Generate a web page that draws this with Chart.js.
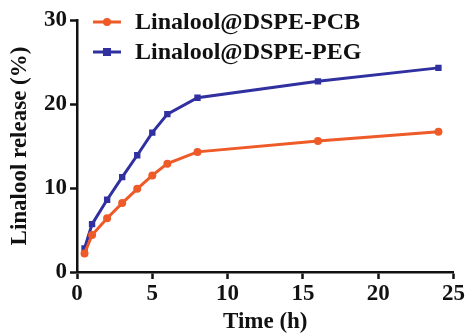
<!DOCTYPE html>
<html>
<head>
<meta charset="utf-8">
<script src="https://cdn.jsdelivr.net/npm/chart.js@4/dist/chart.umd.min.js"></script>
<style>
  html, body { margin: 0; padding: 0; background: #fff; }
  #wrap { width: 466px; height: 336px; position: relative; }
</style>
</head>
<body>
<div id="wrap"><canvas id="chart"></canvas></div>
<script>
// Release data
const timePoints = [0.5, 1, 2, 3, 4, 5, 6, 8, 16, 24];
const pcbRelease = [2.2, 4.4, 6.4, 8.2, 9.9, 11.5, 12.9, 14.3, 15.6, 16.7];
const pegRelease = [2.8, 5.7, 8.6, 11.3, 13.9, 16.6, 18.8, 20.75, 22.7, 24.3];
const seriesNames = ['Linalool@DSPE-PCB', 'Linalool@DSPE-PEG'];
const xTicks = [0, 5, 10, 15, 20, 25];
const yTicks = [0, 10, 20, 30];

const orange = '#ee5a28';
const blue = '#3030a0';
const fontFamily = '"Liberation Serif", "Times New Roman", serif';

function toPoints(xs, ys) {
    return xs.map((x, i) => ({ x: x, y: ys[i] }));
}

// Legend drawn inside the plot, top-left, like the original
const insideLegend = {
    id: 'insideLegend',
    afterDraw(chart) {
        const ctx = chart.ctx;
        const area = chart.chartArea;
        ctx.save();
        ctx.font = 'bold 24px ' + fontFamily;
        ctx.textBaseline = 'middle';
        chart.data.datasets.forEach((ds, i) => {
            const y = area.top + 2 + i * 30;
            const x0 = area.left + 16;
            ctx.strokeStyle = ds.borderColor;
            ctx.lineWidth = 3;
            ctx.beginPath();
            ctx.moveTo(x0, y);
            ctx.lineTo(x0 + 28, y);
            ctx.stroke();
            ctx.fillStyle = ds.borderColor;
            if (ds.pointStyle === 'rect') {
                ctx.fillRect(x0 + 10, y - 4, 8, 8);
            } else {
                ctx.beginPath();
                ctx.arc(x0 + 14, y, 4, 0, Math.PI * 2);
                ctx.fill();
            }
            ctx.fillStyle = '#111';
            ctx.fillText(ds.label, x0 + 42, y + 1);
        });
        ctx.restore();
    }
};

// only the outward tick marks, no grid inside the plot
const axisGrid = {
    display: true,
    drawOnChartArea: false,
    drawTicks: true,
    tickLength: 7,
    tickWidth: 2.5,
    tickColor: '#111'
};

new Chart(document.getElementById('chart'), {
    type: 'line',
    data: {
        datasets: [
            {
                label: seriesNames[0],
                data: toPoints(timePoints, pcbRelease),
                borderColor: orange,
                backgroundColor: orange,
                borderWidth: 3,
                pointStyle: 'circle',
                pointRadius: 4,
                pointBorderWidth: 0,
                tension: 0
            },
            {
                label: seriesNames[1],
                data: toPoints(timePoints, pegRelease),
                borderColor: blue,
                backgroundColor: blue,
                borderWidth: 3,
                pointStyle: 'rect',
                pointRadius: 4.5,
                pointBorderWidth: 0,
                tension: 0
            }
        ]
    },
    options: {
        responsive: true,
        maintainAspectRatio: false,
        animation: false,
        layout: { padding: { top: 20, right: 12, left: 6, bottom: 0 } },
        plugins: {
            legend: { display: false },
            tooltip: { enabled: false }
        },
        scales: {
            x: {
                type: 'linear',
                min: 0,
                max: 25,
                afterBuildTicks: (scale) => { scale.ticks = xTicks.map(v => ({ value: v })); },
                afterFit: (scale) => { scale.height = 64; },
                grid: axisGrid,
                border: { display: true, color: '#111', width: 2.5 },
                ticks: {
                    color: '#111',
                    padding: 1,
                    maxRotation: 0,
                    font: { family: fontFamily, size: 23, weight: 'bold' }
                },
                title: {
                    display: true,
                    text: 'Time (h)',
                    color: '#111',
                    padding: { top: -4, bottom: 0 },
                    font: { family: fontFamily, size: 23, weight: 'bold' }
                }
            },
            y: {
                type: 'linear',
                min: 0,
                max: 30,
                afterBuildTicks: (scale) => { scale.ticks = yTicks.map(v => ({ value: v })); },
                afterFit: (scale) => { scale.width = 71; },
                grid: axisGrid,
                border: { display: true, color: '#111', width: 2.5 },
                ticks: {
                    color: '#111',
                    padding: 3,
                    font: { family: fontFamily, size: 23, weight: 'bold' }
                },
                title: {
                    display: true,
                    text: 'Linalool release (%)',
                    color: '#111',
                    padding: { top: 0, bottom: 2 },
                    font: { family: fontFamily, size: 23, weight: 'bold' }
                }
            }
        }
    },
    plugins: [insideLegend]
});
</script>
</body>
</html>
